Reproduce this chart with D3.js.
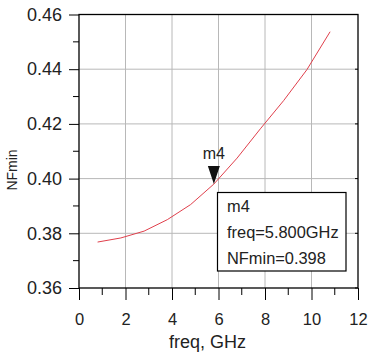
<!DOCTYPE html>
<html>
<head>
<meta charset="utf-8">
<script src="https://cdn.jsdelivr.net/npm/d3@7/dist/d3.min.js"></script>
<style>
  body { margin: 0; background: #fff; }
  text { font-family: "Liberation Sans", Arial, sans-serif; fill: #222; }
</style>
</head>
<body>
<svg width="379" height="354"></svg>
<script>
// data
var freqs = [0.8, 1.8, 2.8, 3.8, 4.8, 5.8, 6.8, 7.8, 8.8, 9.8, 10.8];
var nfmin = [0.3768, 0.3783, 0.3808, 0.3850, 0.3905, 0.3980, 0.4075, 0.4182, 0.4285, 0.4398, 0.4537];
var xTicks = [0, 2, 4, 6, 8, 10, 12];
var yTicks = [0.36, 0.38, 0.40, 0.42, 0.44, 0.46];
var markerFreq = 5.8, markerVal = 0.398;
var markerLines = ["m4", "freq=5.800GHz", "NFmin=0.398"];

var svg = d3.select("svg");

var x = d3.scaleLinear().domain([0, 12]).range([79, 358]);
var y = d3.scaleLinear().domain([0.36, 0.46]).range([288, 14.5]);

// grid
svg.append("g").selectAll("line")
    .data(xTicks.slice(1, -1))
    .enter().append("line")
    .attr("x1", function(d) { return x(d); }).attr("x2", function(d) { return x(d); })
    .attr("y1", y(0.36)).attr("y2", y(0.46))
    .attr("stroke", "#b8b8b8").attr("stroke-width", 1);

svg.append("g").selectAll("line")
    .data(yTicks.slice(1, -1))
    .enter().append("line")
    .attr("x1", x(0)).attr("x2", x(12))
    .attr("y1", function(d) { return y(d); }).attr("y2", function(d) { return y(d); })
    .attr("stroke", "#b8b8b8").attr("stroke-width", 1);

// minor ticks
var xMinor = d3.range(1, 12, 2);
var yMinor = [0.37, 0.39, 0.41, 0.43, 0.45];

svg.append("g").selectAll("line")
    .data(xMinor)
    .enter().append("line")
    .attr("x1", function(d) { return x(d); }).attr("x2", function(d) { return x(d); })
    .attr("y1", y(0.36)).attr("y2", y(0.36) + 7)
    .attr("stroke", "#000").attr("stroke-width", 1);

svg.append("g").selectAll("line")
    .data(yMinor)
    .enter().append("line")
    .attr("x1", x(0) - 6).attr("x2", x(0))
    .attr("y1", function(d) { return y(d); }).attr("y2", function(d) { return y(d); })
    .attr("stroke", "#000").attr("stroke-width", 1);

// axes
svg.append("g")
    .attr("transform", "translate(0," + y(0.36) + ")")
    .call(d3.axisBottom(x).tickValues(xTicks).tickSize(12).tickPadding(13).tickFormat(d3.format("d")))
    .call(function(g) {
        g.select(".domain").remove();
        g.selectAll("line").attr("stroke", "#000");
        g.selectAll("text").style("font-size", "16.5px").attr("fill", "#222");
    });

svg.append("g")
    .attr("transform", "translate(" + x(0) + ",0)")
    .call(d3.axisLeft(y).tickValues(yTicks).tickSize(10).tickPadding(7).tickFormat(d3.format(".2f")))
    .call(function(g) {
        g.select(".domain").remove();
        g.selectAll("line").attr("stroke", "#000");
        g.selectAll("text").style("font-size", "18px").attr("fill", "#222");
    });

// right side small inward ticks
svg.append("g").selectAll("line")
    .data(yTicks)
    .enter().append("line")
    .attr("x1", x(12) - 3).attr("x2", x(12))
    .attr("y1", function(d) { return y(d); }).attr("y2", function(d) { return y(d); })
    .attr("stroke", "#000");

// frame
svg.append("rect")
    .attr("x", x(0)).attr("y", y(0.46))
    .attr("width", x(12) - x(0)).attr("height", y(0.36) - y(0.46))
    .attr("fill", "none").attr("stroke", "#000").attr("stroke-width", 1.3);

// curve
var line = d3.line()
    .x(function(d, i) { return x(freqs[i]); })
    .y(function(d) { return y(d); });

svg.append("path")
    .datum(nfmin)
    .attr("d", line)
    .attr("fill", "none")
    .attr("stroke", "#e0404c")
    .attr("stroke-width", 1);

// marker
var mx = x(markerFreq), my = y(markerVal);
svg.append("path")
    .attr("d", "M" + (mx - 6) + "," + (my - 18) + "L" + (mx + 6) + "," + (my - 18) + "L" + mx + "," + my + "Z")
    .attr("fill", "#111");

svg.append("text")
    .attr("x", mx).attr("y", my - 25)
    .attr("text-anchor", "middle")
    .style("font-size", "16px")
    .text("m4");

// marker readout box
svg.append("rect")
    .attr("x", 217.5).attr("y", 192.5)
    .attr("width", 128.5).attr("height", 78.5)
    .attr("fill", "#fff").attr("stroke", "#000").attr("stroke-width", 1.2);

svg.append("g").selectAll("text")
    .data(markerLines)
    .enter().append("text")
    .attr("x", 227)
    .attr("y", function(d, i) { return 212 + i * 25.8; })
    .style("font-size", "16.4px")
    .text(function(d) { return d; });

// axis titles
svg.append("text")
    .attr("x", 207.5).attr("y", 348)
    .attr("text-anchor", "middle")
    .style("font-size", "18px")
    .text("freq, GHz");

svg.append("text")
    .attr("transform", "translate(17,170) rotate(-90)")
    .attr("text-anchor", "middle")
    .style("font-size", "14px")
    .text("NFmin");
</script>
</body>
</html>
